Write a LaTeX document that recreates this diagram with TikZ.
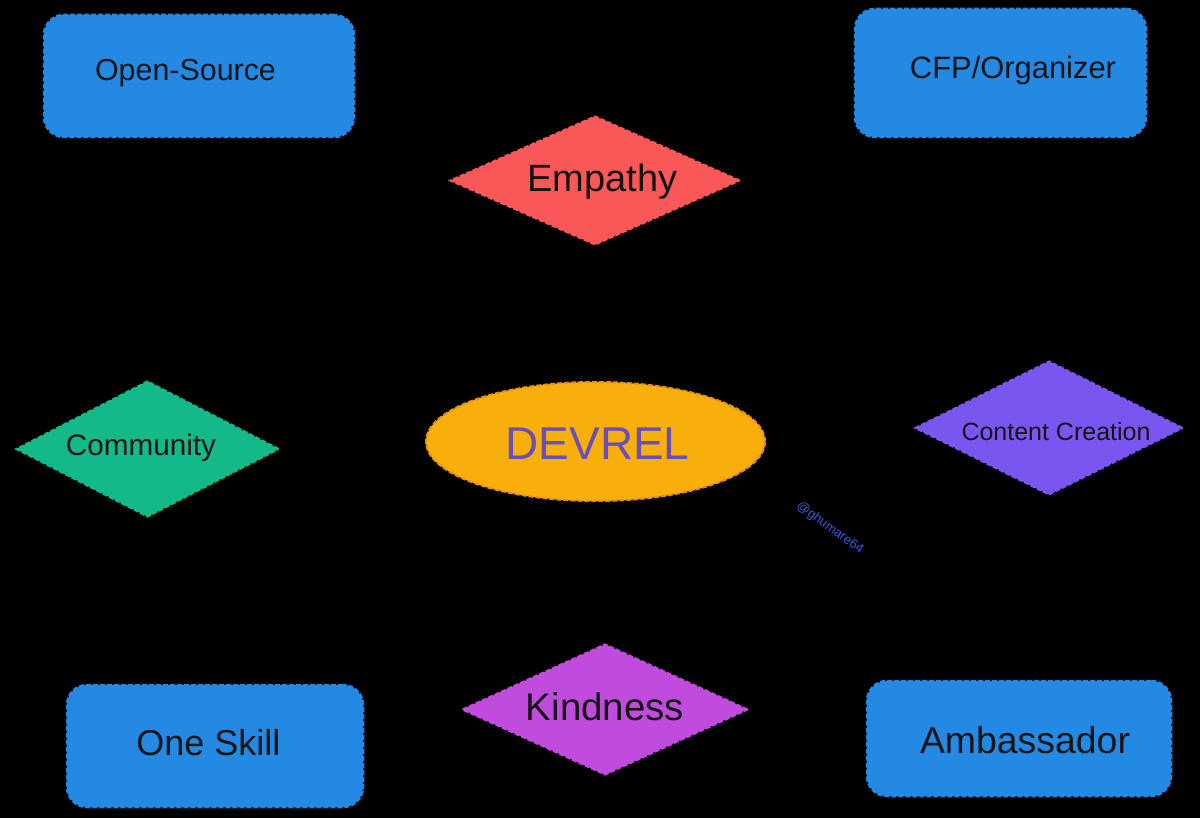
\documentclass[tikz,border=0pt]{standalone}
\usepackage{fontspec}
\setmainfont{Liberation Sans}
\usetikzlibrary{shapes.geometric}
\definecolor{boxblue}{HTML}{2389E3}
\definecolor{empred}{HTML}{FA5858}
\definecolor{comgreen}{HTML}{14B98A}
\definecolor{devorange}{HTML}{F9AF0A}
\definecolor{devedge}{HTML}{E8901A}
\definecolor{contpurple}{HTML}{7B55F0}
\definecolor{kindpink}{HTML}{C04BDD}
\definecolor{devtext}{HTML}{6B4FB8}
\definecolor{txt}{HTML}{141414}
\definecolor{wm}{HTML}{3A55E0}
\tikzset{
  rolebox/.style={draw=boxblue, fill=boxblue, dashed, dash pattern=on 5pt off 2pt, line width=2.5pt, rounded corners=20pt, inner sep=0pt},
  valdiamond/.style={shape=diamond, dashed, dash pattern=on 5pt off 2pt, line width=2pt, inner sep=0pt},
  lbl/.style={text=txt, inner sep=0pt, anchor=center}
}
\begin{document}
\begin{tikzpicture}[x=1pt,y=-1pt]
\fill[black] (0,0) rectangle (1200,818);
\useasboundingbox (0,0) rectangle (1200,818);
% boxes
\node[rolebox, minimum width=310pt, minimum height=122pt] (os) at (199,76) {};
\node[rolebox, minimum width=291pt, minimum height=128pt] (cfp) at (1000.5,73) {};
\node[rolebox, minimum width=296pt, minimum height=122pt] (one) at (215,746) {};
\node[rolebox, minimum width=304pt, minimum height=115pt] (amb) at (1019,738.5) {};
% diamonds
\node[valdiamond, draw=empred, fill=empred, minimum width=290pt, minimum height=129pt] (emp) at (595,180.5) {};
\node[valdiamond, draw=comgreen, fill=comgreen, minimum width=263pt, minimum height=136pt] (com) at (147.5,449) {};
\node[valdiamond, draw=contpurple, fill=contpurple, minimum width=268pt, minimum height=134pt] (cc) at (1049,428) {};
\node[valdiamond, draw=kindpink, fill=kindpink, minimum width=286pt, minimum height=131pt] (kind) at (605,709.5) {};
% ellipse
\node[shape=ellipse, draw=devedge, fill=devorange, dashed, dash pattern=on 5pt off 2pt, line width=2pt, minimum width=339pt, minimum height=119pt, inner sep=0pt] (dev) at (595.5,441.5) {};
% labels
\node[lbl, font=\fontsize{30.4}{34}\selectfont] (tos) at (185.5,73) {Open-Source};
\node[lbl, font=\fontsize{30.9}{34}\selectfont] (tcfp) at (1013,71) {CFP/Organizer};
\node[lbl, font=\fontsize{36}{40}\selectfont] (tone) at (208.5,743) {One Skill};
\node[lbl, font=\fontsize{37.4}{40}\selectfont] (tamb) at (1025,740) {Ambassador};
\node[lbl, font=\fontsize{38}{42}\selectfont] (temp) at (602.5,182) {Empathy};
\node[lbl, font=\fontsize{29.7}{33}\selectfont] (tcom) at (141,448) {Community};
\node[lbl, font=\fontsize{25}{28}\selectfont] (tcc) at (1056,432) {Content Creation};
\node[lbl, font=\fontsize{38.5}{42}\selectfont] (tkind) at (605,707) {Kindness};
\node[lbl, text=devtext, font=\fontsize{46}{50}\selectfont] (tdev) at (597.5,444) {DEVREL};
\node[text=wm, inner sep=0pt, rotate=-36, font=\fontsize{13}{15}\selectfont] (wmk) at (830,528) {@ghumare64};
\end{tikzpicture}
\end{document}
